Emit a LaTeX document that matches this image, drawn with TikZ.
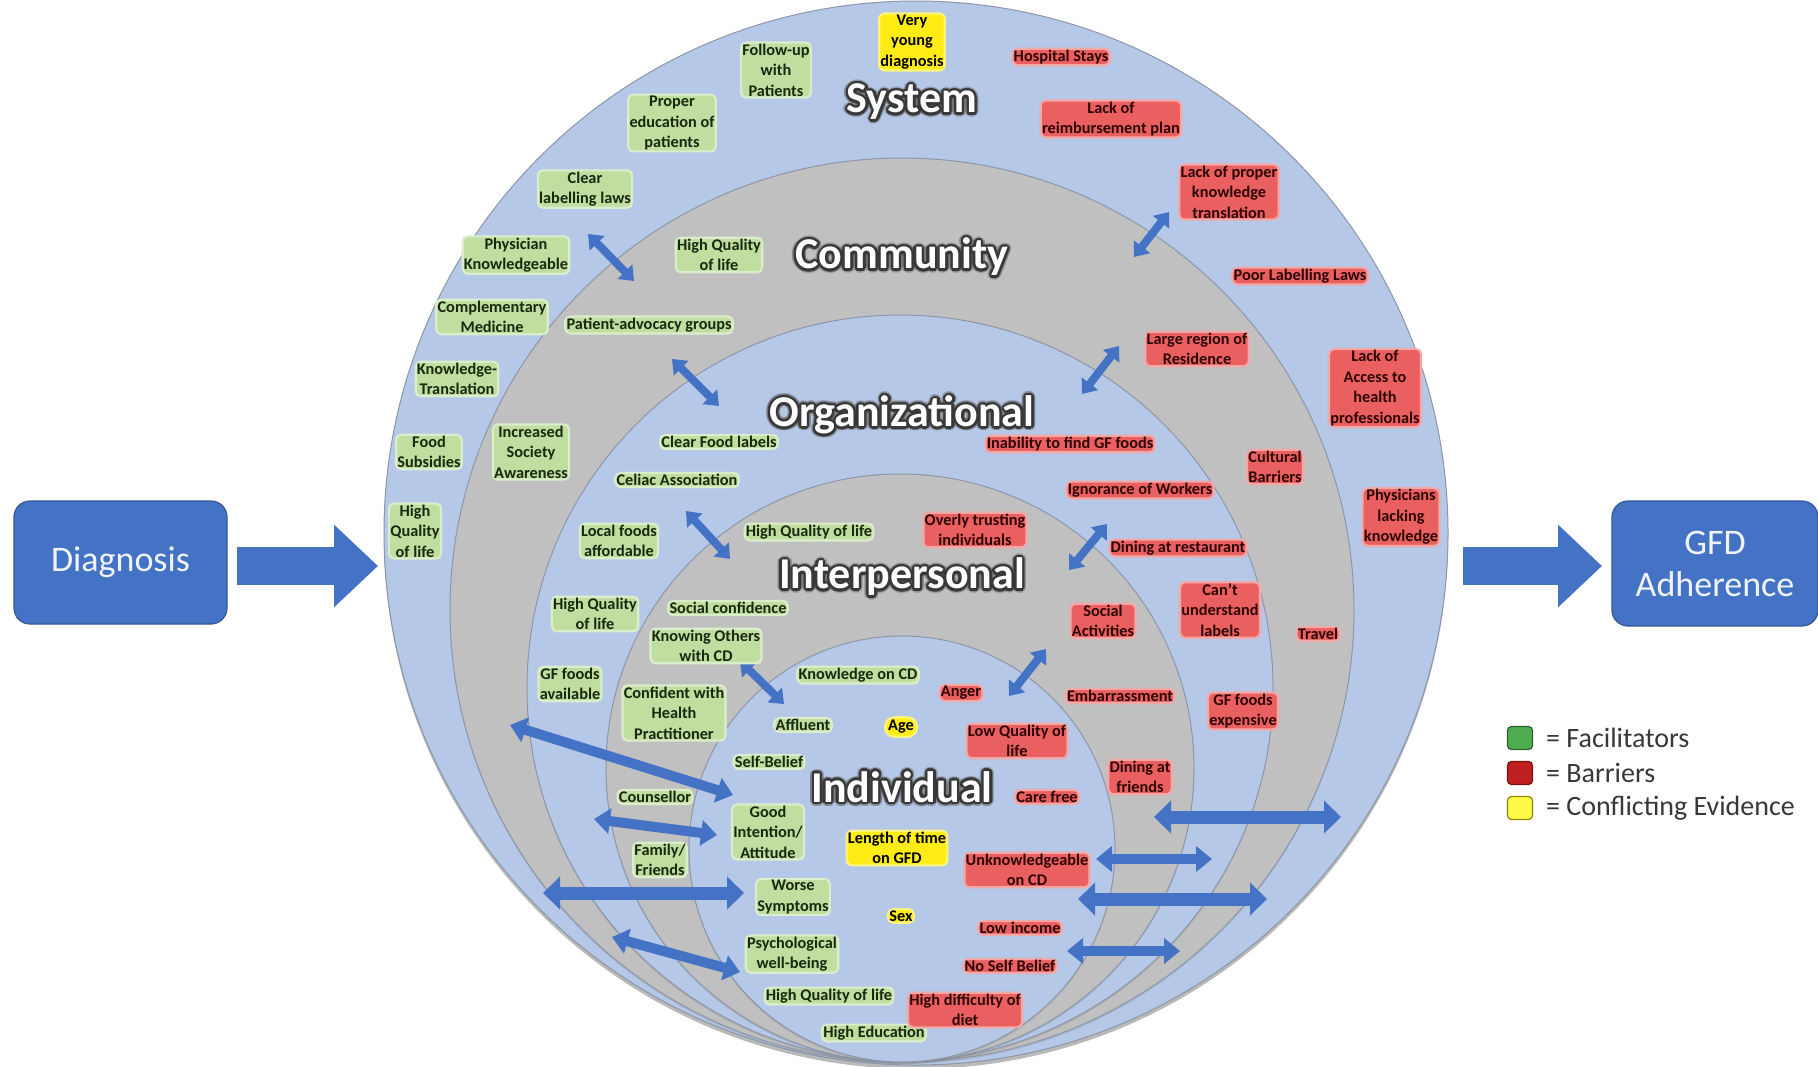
\documentclass[tikz,border=0pt]{standalone}
\usepackage{fontspec}
\setmainfont{Carlito}
\usetikzlibrary{arrows.meta,shadows,calc}
\definecolor{ringblue}{RGB}{182,200,231}
\definecolor{ringgray}{RGB}{192,192,192}
\definecolor{ringline}{RGB}{140,150,168}
\definecolor{boxblue}{RGB}{68,114,196}
\definecolor{facg}{RGB}{192,222,160}
\definecolor{facT}{RGB}{25,40,15}
\definecolor{barr}{RGB}{234,96,96}
\definecolor{barT}{RGB}{45,5,5}
\definecolor{conf}{RGB}{255,236,20}
\definecolor{lgreen}{RGB}{80,172,80}
\definecolor{lred}{RGB}{192,32,32}
\definecolor{lyellow}{RGB}{255,250,70}
\newcommand\labfnt{\fontsize{16.3}{20.5}\selectfont\bfseries}
\newcommand\layerfnt{\fontsize{44}{50}\selectfont\bfseries}
\newcommand\ringlabel[3]{%
  \foreach \ang in {0,22.5,...,337.5}{\node[layerglow] at ($(#2)+(\ang:4.2pt)$) {#3};}
  \foreach \ang in {0,22.5,...,337.5}{\node[layerbg] at ($(#2)+(\ang:2.4pt)$) {#3};}
  \node[layerfg] (#1) at (#2) {#3};}
\begin{document}
\begin{tikzpicture}[x=1pt,y=-1pt,
  lbl/.style={font=\labfnt, line width=2.2pt, rounded corners=5pt, inner sep=1.3pt, align=center},
  fac/.style={lbl, text=facT, fill=facg, draw=facg!55!white},
  bar/.style={lbl, text=barT, fill=barr, draw=barr!55!white},
  con/.style={lbl, text=black, fill=conf, draw=conf!55!white},
  layerfg/.style={font=\layerfnt, text=white, inner sep=0pt},
  layerbg/.style={font=\layerfnt, text=black!78, inner sep=0pt},
  layerglow/.style={font=\layerfnt, text=black!60, opacity=0.3, inner sep=0pt},
  bigbox/.style={fill=boxblue, draw=boxblue!78!black, line width=1.2pt, rounded corners=16pt, text=white!92!boxblue, font=\fontsize{36}{42}\selectfont, align=center},
  bigarrow/.style={draw=boxblue, line width=38pt, -{Triangle[length=44pt,width=80pt]}},
  sarrow/.style={draw=boxblue, line width=8pt, {Triangle[length=13pt,width=20pt]}-{Triangle[length=13pt,width=20pt]}},
  marrow/.style={draw=boxblue, line width=10pt, {Triangle[length=16pt,width=25pt]}-{Triangle[length=16pt,width=25pt]}},
  larrow/.style={draw=boxblue, line width=13pt, {Triangle[length=17pt,width=32pt]}-{Triangle[length=17pt,width=32pt]}},
  legsq/.style={minimum width=25pt, minimum height=23pt, rounded corners=4pt, line width=1.2pt, inner sep=0pt},
  legtxt/.style={anchor=west, font=\fontsize{28}{32}\selectfont, text=black!78, inner sep=0pt}
]
\useasboundingbox (0,0) rectangle (1818,1066);
\fill[white] (0,0) rectangle (1818,1066);

% rings
\fill[ringblue, draw=ringline, line width=1pt, drop shadow={shadow xshift=0pt, shadow yshift=-4pt, opacity=0.55}] (916,533) circle[radius=532pt];
\fill[ringgray, draw=ringline, line width=1pt, drop shadow={shadow xshift=0pt, shadow yshift=-2pt, opacity=0.25}] (902,610) circle[radius=452pt];
\fill[ringblue, draw=ringline, line width=1pt, drop shadow={shadow xshift=0pt, shadow yshift=-2pt, opacity=0.25}] (900,688) circle[radius=373pt];
\fill[ringgray, draw=ringline, line width=1pt, drop shadow={shadow xshift=0pt, shadow yshift=-2pt, opacity=0.25}] (900,768) circle[radius=294pt];
\fill[ringblue, draw=ringline, line width=1pt, drop shadow={shadow xshift=0pt, shadow yshift=-2pt, opacity=0.25}] (902,849) circle[radius=213pt];

% side boxes and big arrows
\node[bigbox, minimum width=213pt, minimum height=123pt] (diag) at (120.5,562.5) {Diagnosis};
\node[bigbox, minimum width=206pt, minimum height=125pt] (gfd) at (1715,563.5) {GFD\\Adherence};
\coordinate (da1) at (237,566); \coordinate (da2) at (378,566);
\coordinate (ga1) at (1463,566); \coordinate (ga2) at (1602,566);
\draw[bigarrow] (da1) -- (da2);
\draw[bigarrow] (ga1) -- (ga2);

% double arrows between rings
\coordinate (b1a) at (588,234); \coordinate (b1b) at (634,281);
\coordinate (b2a) at (672,359); \coordinate (b2b) at (719,406);
\coordinate (b3a) at (686,511); \coordinate (b3b) at (730,559);
\coordinate (b4a) at (740,661); \coordinate (b4b) at (784,704);
\coordinate (b5a) at (1169,212); \coordinate (b5b) at (1134,257);
\coordinate (b6a) at (1119,346); \coordinate (b6b) at (1082,394);
\coordinate (b7a) at (1107,524); \coordinate (b7b) at (1069,570);
\coordinate (b8a) at (1046,649); \coordinate (b8b) at (1009,696);
\foreach \i in {1,...,8}{\draw[sarrow] (b\i a) -- (b\i b);}
\coordinate (l1a) at (510,725); \coordinate (l1b) at (733,795);
\coordinate (l2a) at (594,819); \coordinate (l2b) at (717,835);
\coordinate (l3a) at (543,893); \coordinate (l3b) at (744,893);
\coordinate (l4a) at (612,937); \coordinate (l4b) at (740,972);
\coordinate (r1a) at (1154,817); \coordinate (r1b) at (1341,817);
\coordinate (r2a) at (1096,859); \coordinate (r2b) at (1212,859);
\coordinate (r3a) at (1078,899); \coordinate (r3b) at (1267,899);
\coordinate (r4a) at (1067,951); \coordinate (r4b) at (1180,951);
\draw[marrow] (l1a) -- (l1b);
\draw[marrow] (l2a) -- (l2b);
\draw[larrow] (l3a) -- (l3b);
\draw[marrow] (l4a) -- (l4b);
\draw[larrow] (r1a) -- (r1b);
\draw[marrow] (r2a) -- (r2b);
\draw[larrow] (r3a) -- (r3b);
\draw[marrow] (r4a) -- (r4b);

% layer titles
\ringlabel{tsys}{912,102}{System}
\ringlabel{tcom}{902,257}{Community}
\ringlabel{torg}{902,415}{Organizational}
\ringlabel{tint}{902,577}{Interpersonal}
\ringlabel{tind}{902,787}{Individual}

% System ring
\node[fac] (s1) at (776,70) {Follow-up\\with\\Patients};
\node[fac] (s2) at (672,123) {Proper\\education of\\patients};
\node[fac] (s3) at (585,189) {Clear\\labelling laws};
\node[fac] (s4) at (516,255) {Physician\\Knowledgeable};
\node[fac] (s5) at (492,317) {Complementary\\Medicine};
\node[fac] (s6) at (457,379) {Knowledge-\\Translation};
\node[fac] (s7) at (429,452) {Food\\Subsidies};
\node[fac] (s8) at (415,531) {High\\Quality\\of life};
\node[con] (s9) at (912,42) {Very\\young\\diagnosis};
\node[bar] (s10) at (1061,57) {Hospital Stays};
\node[bar] (s11) at (1111,119) {Lack of\\reimbursement plan};
\node[bar] (s12) at (1229,192) {Lack of proper\\knowledge\\translation};
\node[bar] (s13) at (1300,276) {Poor Labelling Laws};
\node[bar] (s14) at (1375,388) {Lack of\\Access to\\health\\professionals};
\node[bar] (s15) at (1401,517) {Physicians\\lacking\\knowledge};

% Community ring
\node[fac] (c1) at (719,255) {High Quality\\of life};
\node[fac] (c2) at (649,325) {Patient-advocacy groups};
\node[fac] (c3) at (531,452) {Increased\\Society\\Awareness};
\node[bar] (c4) at (1197,349) {Large region of\\Residence};
\node[bar] (c5) at (1275,467) {Cultural\\Barriers};
\node[bar] (c6) at (1318,634) {Travel};

% Organizational ring
\node[fac] (o1) at (719,442) {Clear Food labels};
\node[fac] (o2) at (677,480) {Celiac Association};
\node[fac] (o3) at (619,541) {Local foods\\affordable};
\node[fac] (o4) at (595,614) {High Quality\\of life};
\node[fac] (o5) at (570,684) {GF foods\\available};
\node[bar] (o6) at (1070,444) {Inability to find GF foods};
\node[bar] (o7) at (1140,490) {Ignorance of Workers};
\node[bar] (o8) at (1178,548) {Dining at restaurant};
\node[bar] (o9) at (1220,610) {Can't\\understand\\labels};
\node[bar] (o10) at (1243,711) {GF foods\\expensive};

% Interpersonal ring
\node[fac] (p1) at (809,532) {High Quality of life};
\node[fac] (p2) at (728,608) {Social confidence};
\node[fac] (p3) at (706,646) {Knowing Others\\with CD};
\node[fac] (p4) at (674,713) {Confident with\\Health\\Practitioner};
\node[fac] (p5) at (655,797) {Counsellor};
\node[fac] (p6) at (660,860) {Family/\\Friends};
\node[bar] (p7) at (975,530) {Overly trusting\\individuals};
\node[bar] (p8) at (1103,621) {Social\\Activities};
\node[bar] (p9) at (1120,696) {Embarrassment};
\node[bar] (p10) at (1140,777) {Dining at\\friends};

% Individual ring
\node[fac] (i1) at (858,675) {Knowledge on CD};
\node[fac] (i2) at (803,725) {Affluent};
\node[fac] (i3) at (769,762) {Self-Belief};
\node[fac] (i4) at (768,832) {Good\\Intention/\\Attitude};
\node[fac] (i5) at (793,897) {Worse\\Symptoms};
\node[fac] (i6) at (792,954) {Psychological\\well-being};
\node[fac] (i7) at (829,996) {High Quality of life};
\node[fac] (i8) at (874,1033) {High Education};
\node[con, rounded corners=9pt, inner sep=3pt] (i9) at (901,727) {Age};
\node[con] (i10) at (897,848) {Length of time\\on GFD};
\node[con] (i11) at (901,916) {Sex};
\node[bar] (i12) at (961,693) {Anger};
\node[bar] (i13) at (1017,741) {Low Quality of\\life};
\node[bar] (i14) at (1047,797) {Care free};
\node[bar] (i15) at (1027,870) {Unknowledgeable\\on CD};
\node[bar] (i16) at (1020,928) {Low income};
\node[bar] (i17) at (1010,966) {No Self Belief};
\node[bar] (i18) at (965,1010) {High difficulty of\\diet};

% legend
\node[legsq, fill=lgreen, draw=lgreen!55!black] (lg1) at (1520,738) {};
\node[legsq, fill=lred, draw=lred!60!black] (lg2) at (1520,773) {};
\node[legsq, fill=lyellow, draw=olive] (lg3) at (1520,808) {};
\node[legtxt] (lt1) at (1546,738) {= Facilitators};
\node[legtxt] (lt2) at (1546,773) {= Barriers};
\node[legtxt] (lt3) at (1546,808) {= Conflicting Evidence};
\end{tikzpicture}
\end{document}
